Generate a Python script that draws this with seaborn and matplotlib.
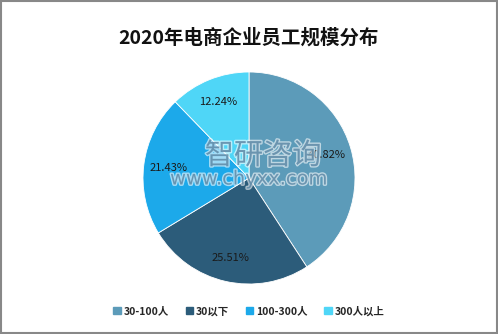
import matplotlib
matplotlib.use("Agg")
import matplotlib.pyplot as plt
import seaborn as sns
from matplotlib.patches import Rectangle
import matplotlib.patheffects as pe

categories = ["30-100人", "30以下", "100-300人", "300人以上"]
values = [40.82, 25.51, 21.43, 12.24]
title = "2020年电商企业员工规模分布"

sns.set_theme(style="white")
plt.rcParams['font.family'] = ['Noto Sans CJK SC', 'DejaVu Sans']

colors = sns.color_palette(["#5C9BB9", "#2C5C7A", "#1CA9EA", "#4FD6F7"])

fig = plt.figure(figsize=(4.98, 3.34), dpi=100)
ax = fig.add_axes([0.5 - 106/498, 1 - (178+106)/334, 212/498, 212/334])

wedges, texts, autotexts = ax.pie(
    values, colors=colors, startangle=90, counterclock=False,
    autopct=lambda p: f"{p:.2f}%", pctdistance=0.77,
    wedgeprops=dict(linewidth=0.6, edgecolor="white"),
    textprops=dict(fontsize=8, color="#1a1a1a"))
ax.set_aspect("equal")
ax.set_xlim(-1, 1)
ax.set_ylim(-1, 1)

# watermark
wm = [pe.withStroke(linewidth=2, foreground="white", alpha=0.6)]
fig.text(263/498, 1 - 156/334, "智研咨询", ha="center", va="center", fontsize=21,
         color="#3a6f93", alpha=0.6, path_effects=wm)
fig.text(249/498, 1 - 179/334, "www.chyxx.com", ha="center", va="center", fontsize=14,
         color="#3a6f93", alpha=0.6, family=["DejaVu Sans"], path_effects=wm)

fig.text(0.5, 1 - 38/334, title, ha="center", va="center", fontsize=14,
         fontweight="bold", color="#111111")

handles = [Rectangle((0, 0), 1, 1, color=c) for c in colors]
fig.legend(handles, categories, loc="center", bbox_to_anchor=(0.5, 1 - 311/334),
           ncol=4, frameon=False, handlelength=0.7, handleheight=0.7,
           handletextpad=0.3, columnspacing=1.6, prop=dict(weight="bold", size=7.5))

fig.patches.append(Rectangle((0.002, 0.003), 0.996, 0.994, transform=fig.transFigure,
                             fill=False, edgecolor="#888888", linewidth=1.5))

fig.savefig("out.png", dpi=100)
